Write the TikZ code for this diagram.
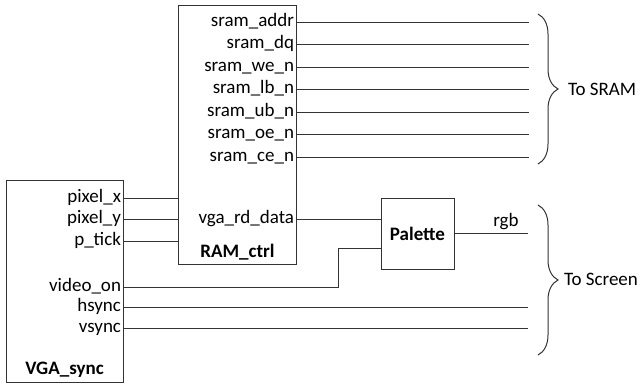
\documentclass[tikz,border=0pt]{standalone}
\usepackage{fontspec}
\setmainfont{Carlito}
\usetikzlibrary{decorations.pathreplacing}
\begin{document}
\begin{tikzpicture}[x=1pt,y=-1pt,
  every node/.style={font=\fontsize{19}{22}\selectfont, inner sep=0pt, outer sep=0pt},
  blk/.style={draw=black!80, line width=1pt, fill=white},
  wire/.style={draw=black!80, line width=1pt},
  lbl/.style={anchor=east, text height=12pt, text depth=4pt},
  brc/.style={draw=black!80, line width=1pt, decorate, decoration={brace, amplitude=20pt, aspect=0.5}}]
\useasboundingbox (0,0) rectangle (640,385);
% blocks
\node[blk, anchor=north west, minimum width=118pt, minimum height=258pt] (ram) at (178,6) {};
\node[blk, anchor=north west, minimum width=117pt, minimum height=202pt] (vga) at (6,180) {};
\node[blk, anchor=north west, minimum width=73pt, minimum height=71pt, font=\fontsize{19}{22}\selectfont\bfseries] (pal) at (381,198) {Palette};
\node[font=\fontsize{19}{22}\selectfont\bfseries] (ramt) at (237.5,252) {RAM\_ctrl};
\node[font=\fontsize{19}{22}\selectfont\bfseries] (vgat) at (64.5,370) {VGA\_sync};
% SRAM outputs
\foreach \n/\t/\y in {1/sram\_addr/23, 2/sram\_dq/45, 3/sram\_we\_n/68, 4/sram\_lb\_n/90, 5/sram\_ub\_n/113, 6/sram\_oe\_n/135, 7/sram\_ce\_n/158}{
  \node[lbl] (s\n) at (294,\y) {\t};
  \coordinate (se\n) at (529,\y);
  \draw[wire] (s\n.east -| ram.east) -- (se\n);
}
% VGA_sync to RAM_ctrl
\foreach \n/\t/\y in {1/pixel\_x/198, 2/pixel\_y/219, 3/p\_tick/241}{
  \node[lbl] (v\n) at (121,\y) {\t};
  \draw[wire] (v\n.east -| vga.east) -- (v\n.east -| ram.west);
}
% other VGA outputs
\node[lbl] (vo) at (121,287) {video\_on};
\node[lbl] (hs) at (121,307) {hsync};
\node[lbl] (vs) at (121,328) {vsync};
\coordinate (hse) at (528,307);
\coordinate (vse) at (528,328);
\coordinate (bend) at (338,248);
\draw[wire] (vo.east -| vga.east) -| (bend) -- (bend -| pal.west);
\draw[wire] (hs.east -| vga.east) -- (hse);
\draw[wire] (vs.east -| vga.east) -- (vse);
% vga_rd_data
\node[lbl] (rd) at (294,219) {vga\_rd\_data};
\draw[wire] (rd.east -| ram.east) -- (rd.east -| pal.west);
% rgb
\coordinate (rgbe) at (528,233.5);
\draw[wire] (pal.east) -- (rgbe);
\node (rgb) at (506,222) {rgb};
% braces
\coordinate (b1t) at (538,14);
\coordinate (b1b) at (538,164);
\coordinate (b2t) at (538,205);
\coordinate (b2b) at (538,355);
\draw[brc] (b1t) -- (b1b);
\draw[brc] (b2t) -- (b2b);
\node[anchor=west] (tsram) at (568,89) {To SRAM};
\node[anchor=west] (tscr) at (564,279) {To Screen};
\end{tikzpicture}
\end{document}
